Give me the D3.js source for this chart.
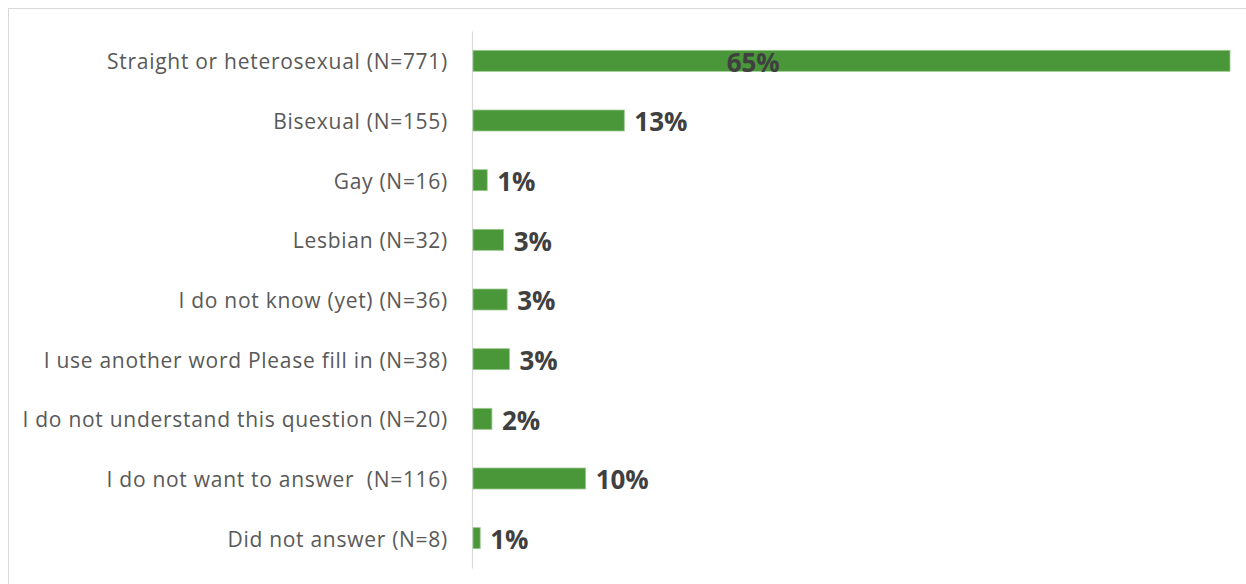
<!DOCTYPE html>
<html>
<head>
  <meta charset="utf-8">
  <script src="https://d3js.org/d3.v7.min.js"></script>
  <style>
  body {
    margin:0;
    background:#fff;
  }
  .cat {
    font-family: "Open Sans", sans-serif;
    font-size: 21px;
    letter-spacing: 0.72px;
    fill: #595959;
    white-space: pre;
  }
  .val {
    font-family: "Open Sans", sans-serif;
    font-size: 26px;
    font-weight: bold;
    fill: #404040;
  }
</style>
</head>
<body>
<script>

  // categories and values (share of respondents, %)
  var categories = [
    "Straight or heterosexual (N=771)",
    "Bisexual (N=155)",
    "Gay (N=16)",
    "Lesbian (N=32)",
    "I do not know (yet) (N=36)",
    "I use another word Please fill in (N=38)",
    "I do not understand this question (N=20)",
    "I do not want to answer  (N=116)",
    "Did not answer (N=8)"
  ];
  var values = [64.7, 13.0, 1.3, 2.7, 3.0, 3.2, 1.7, 9.7, 0.7];
  var valueLabels = ["65%", "13%", "1%", "3%", "3%", "3%", "2%", "10%", "1%"];

  var W = 1246, H = 584;
  var plotLeft = 472, plotTop = 31, plotBottom = 568;

  var svg = d3.select("body").append("svg")
    .attr("width", W)
    .attr("height", H);

  // chart frame
  svg.append("rect")
    .attr("x", 8.5).attr("y", 8.5)
    .attr("width", W + 10).attr("height", H + 10)
    .attr("fill", "none")
    .attr("stroke", "#d9d9d9")
    .attr("stroke-width", 1);

  var x = d3.scaleLinear().domain([0, 64.7]).range([plotLeft, 1230]);
  var y = d3.scaleBand().domain(categories).range([plotTop, plotBottom])
    .paddingInner(0.648).paddingOuter(0.324);

  var yAxis = d3.axisLeft(y).tickSize(0).tickPadding(24);

  var gy = svg.append("g")
    .attr("transform", "translate(" + plotLeft + ",0)")
    .call(yAxis);
  gy.select(".domain").attr("stroke", "#d9d9d9").attr("stroke-width", 1.2);
  gy.selectAll("text")
    .attr("class", "cat")
    .attr("dy", "0.4em")
    .attr("font-family", null)
    .attr("font-size", null)
    .attr("fill", null);

  var data = categories.map((c, i) => ({cat: c, value: values[i], label: valueLabels[i]}));

  svg.selectAll(".bar")
    .data(data)
    .enter().append("rect")
    .attr("class", "bar")
    .attr("x", x(0) + 1)
    .attr("y", d => y(d.cat))
    .attr("width", d => x(d.value) - x(0) - 1)
    .attr("height", y.bandwidth())
    .attr("fill", "#4a973a")
    .attr("stroke", "#9cc98f")
    .attr("stroke-width", 0.8);

  svg.selectAll(".val")
    .data(data)
    .enter().append("text")
    .attr("class", "val")
    .attr("x", d => d.value > 50 ? x(d.value * 0.371) : x(d.value) + 10)
    .attr("text-anchor", d => d.value > 50 ? "middle" : "start")
    .attr("y", d => y(d.cat) + y.bandwidth() / 2)
    .attr("dy", "0.42em")
    .text(d => d.label);

</script>
</body>
</html>
